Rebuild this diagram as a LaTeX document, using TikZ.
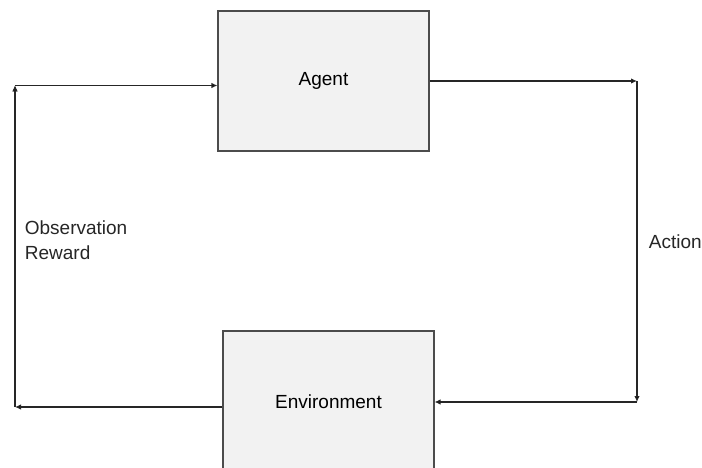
\documentclass[tikz,border=0pt]{standalone}
\usepackage{fontspec}
\setmainfont{Liberation Sans}
\usetikzlibrary{arrows.meta,positioning}

\begin{document}
\begin{tikzpicture}[x=1pt,y=-1pt,line width=1.1pt,
                    main node/.style={rectangle,draw=black!70,fill=black!5,minimum width=211pt,minimum height=140pt,font=\fontsize{19}{24}\selectfont},
                    side label/.style={anchor=west,align=left,font=\fontsize{19}{25}\selectfont,text=black!85}]

  \useasboundingbox (0,0) rectangle (702,468);
  \clip (0,0) rectangle (702,468);

  \node[main node] (1) at (323.5,81) {Agent};
  \node[main node,minimum height=142pt] (2) at (328.5,402) {Environment};
  \coordinate (3) at (637,81);
  \coordinate (4) at (637,402);
  \coordinate (5) at (15,407);
  \coordinate (6) at (15,85.5);

  \path[-{Latex[length=6pt,width=5.5pt]},draw=black!85]
    (1) edge (3)
    (3) edge (4)
    (4) edge (2)
    (2.west |- 5) edge (5)
    (5) edge (6)
    (6) edge (6 -| 1.west);

  \node[side label] (7) at (21,240) {Observation\\Reward};
  \node[side label] (8) at (645,242) {Action};

\end{tikzpicture}
\end{document}
